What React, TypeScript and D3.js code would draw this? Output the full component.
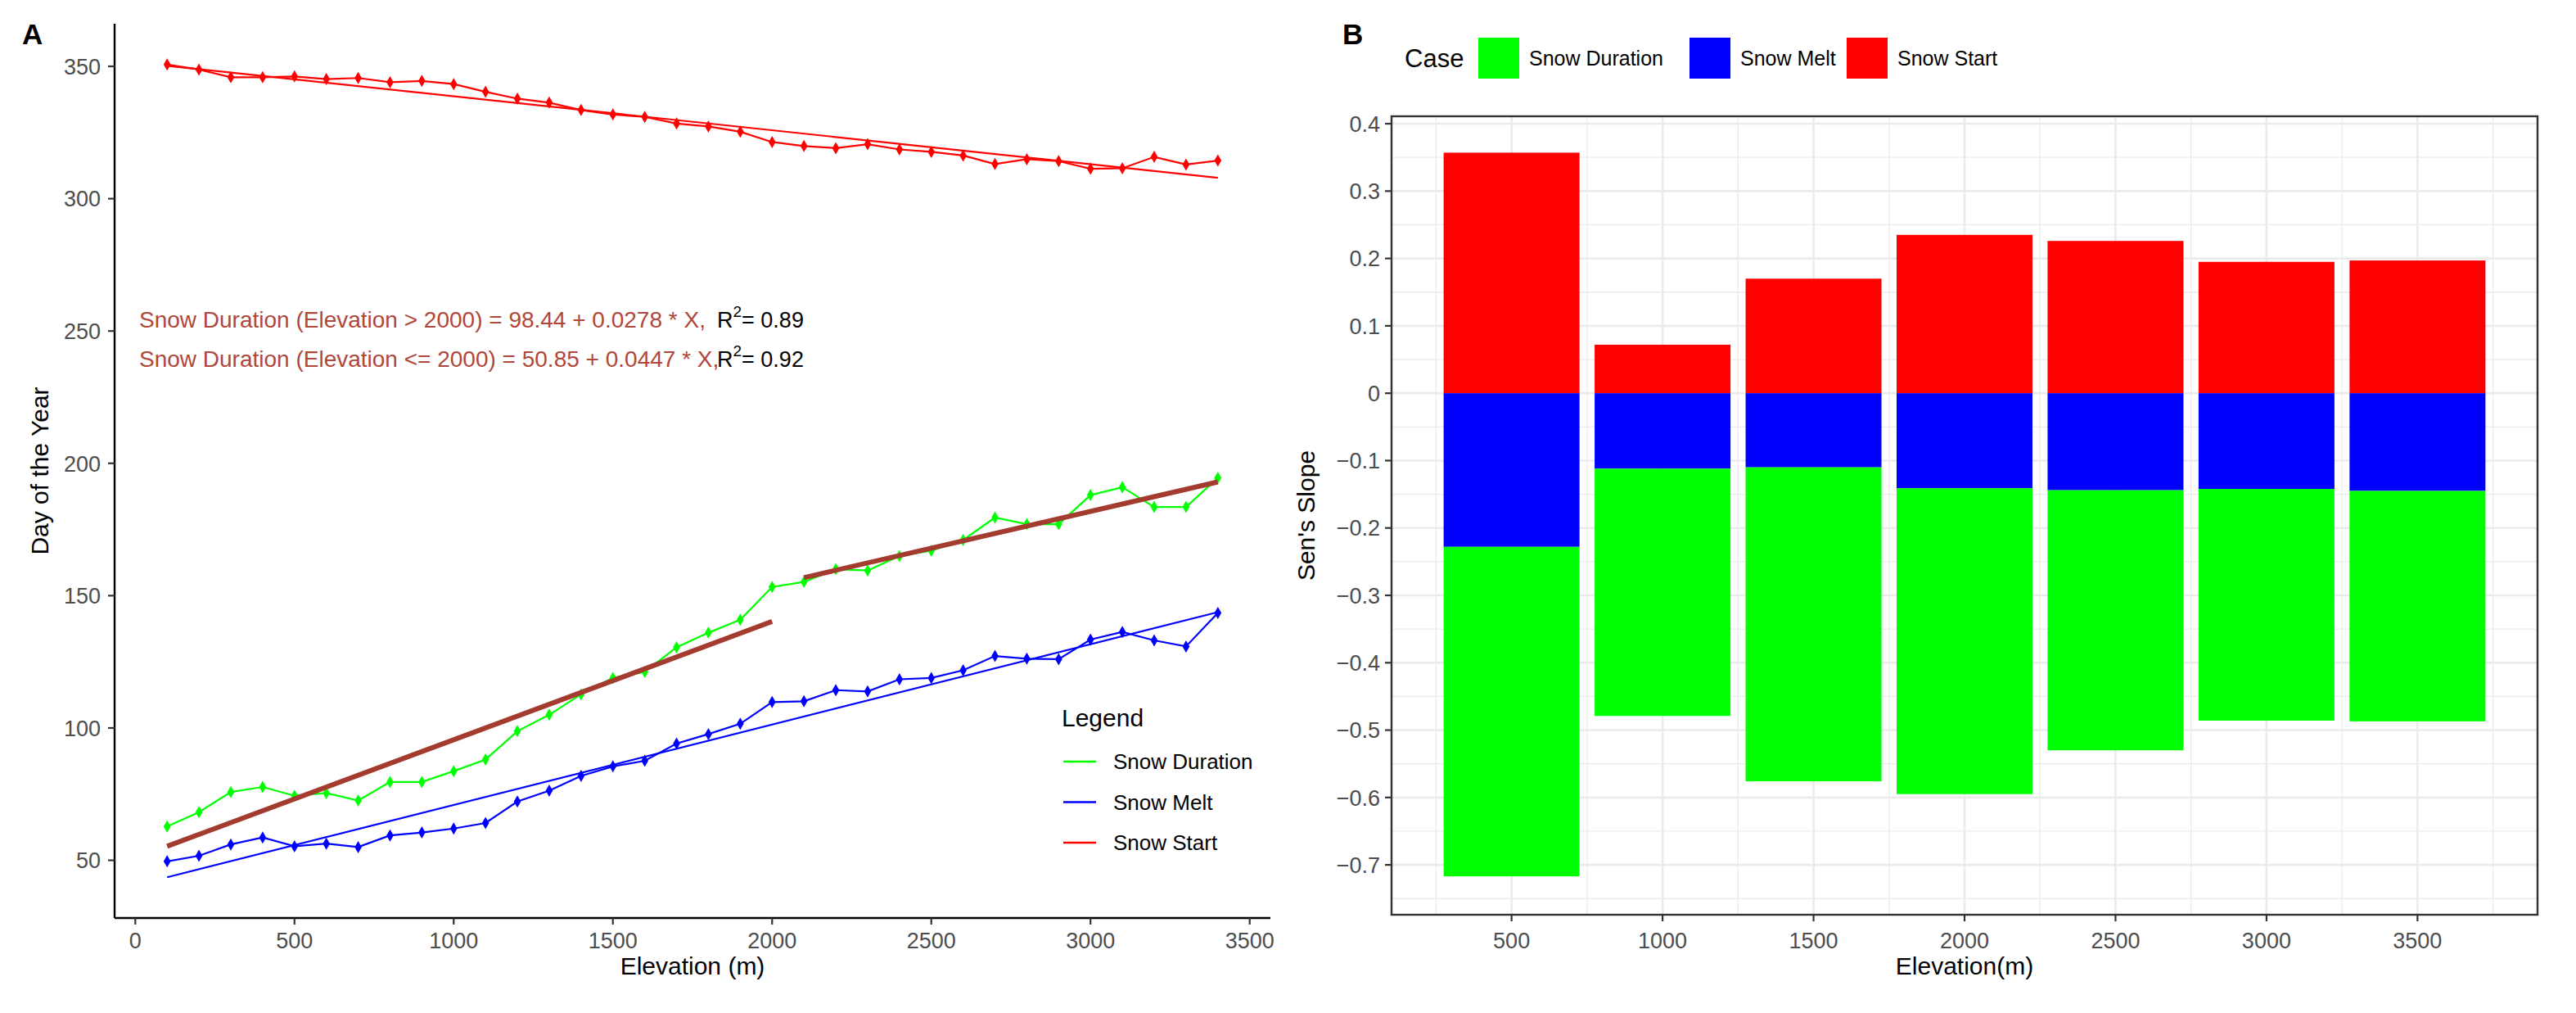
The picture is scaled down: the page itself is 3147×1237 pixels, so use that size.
import { useEffect, useRef } from "react";
import * as d3 from "d3";

// Panel A: day of year by elevation
const elevation = [
  100, 200, 300, 400, 500, 600, 700, 800, 900, 1000, 1100, 1200, 1300, 1400, 1500, 1600, 1700,
  1800, 1900, 2000, 2100, 2200, 2300, 2400, 2500, 2600, 2700, 2800, 2900, 3000, 3100, 3200, 3300, 3400,
];
const snowStart = [
  350.7, 348.8, 345.9, 345.9, 346.2, 345.2, 345.6, 344.0, 344.5, 343.3, 340.4, 337.8, 336.3, 333.5,
  331.8, 330.9, 328.4, 327.3, 325.3, 321.4, 319.9, 319.1, 320.6, 318.6, 317.7, 316.3, 313.1, 314.9,
  314.2, 311.3, 311.5, 315.8, 312.9, 314.4,
];
const snowMelt = [
  49.6, 51.7, 56.0, 58.6, 55.3, 56.3, 55.0, 59.4, 60.5, 62.0, 64.1, 72.2, 76.3, 81.9, 85.5, 87.6,
  94.1, 97.7, 101.6, 109.8, 110.1, 114.3, 113.8, 118.4, 118.9, 121.8, 127.2, 126.2, 126.0, 133.4,
  136.3, 133.1, 130.8, 143.5,
];
const snowDuration = [
  62.8, 68.2, 75.8, 77.7, 74.4, 75.4, 72.6, 79.6, 79.6, 83.7, 88.1, 98.8, 105.0, 112.7, 118.9, 121.2,
  130.5, 136.0, 140.9, 153.3, 155.2, 160.0, 159.5, 165.0, 167.0, 171.0, 179.5, 177.0, 177.0, 188.0,
  191.0, 183.5, 183.5, 194.5,
];

// fitted lines: [intercept, slope, from, to]
const startFit = [351.5, -0.01282, 100, 3400];
const meltFit = [40.56, 0.03036, 100, 3400];
const durationFitLow = [50.85, 0.0447, 100, 2000];
const durationFitHigh = [98.44, 0.0278, 2100, 3400];

const equations = [
  "Snow Duration (Elevation > 2000) = 98.44 + 0.0278 * X,",
  "Snow Duration (Elevation <= 2000) = 50.85 + 0.0447 * X,",
];
const rSquared = ["0.89", "0.92"];
const seriesNames = ["Snow Duration", "Snow Melt", "Snow Start"];
const xTicksA = [0, 500, 1000, 1500, 2000, 2500, 3000, 3500];
const yTicksA = [50, 100, 150, 200, 250, 300, 350];

// Panel B: Sen's slope by elevation band
const bandElevation = [500, 1000, 1500, 2000, 2500, 3000, 3500];
const slopeStart = [0.357, 0.072, 0.17, 0.235, 0.226, 0.195, 0.197];
const slopeMelt = [-0.228, -0.112, -0.11, -0.141, -0.144, -0.142, -0.145];
const slopeDuration = [-0.489, -0.367, -0.466, -0.454, -0.386, -0.344, -0.342];
const yTicksB = [-0.7, -0.6, -0.5, -0.4, -0.3, -0.2, -0.1, 0, 0.1, 0.2, 0.3, 0.4];

const colors: Record<string, string> = {
  "Snow Duration": "#00FF00",
  "Snow Melt": "#0000FF",
  "Snow Start": "#FF0000",
};

const FONT = "'Liberation Sans', Arial, sans-serif";
const fmtB = (v: number) => (v === 0 ? "0" : d3.format(".1f")(v).replace("-", "\u2212"));

const App = () => {
  const svgRef = useRef<SVGSVGElement | null>(null);

  useEffect(() => {
    if (!svgRef.current) return;
    const svg = d3.select(svgRef.current);
    svg.selectAll("*").remove();
    svg.attr("font-family", FONT);

    // ---------- Panel A ----------
    const xA = d3.scaleLinear().domain([-65, 3565]).range([140, 1552]);
    const yA = d3.scaleLinear().domain([28.2, 366.1]).range([1121, 29]);
    const gA = svg.append("g");

    gA.append("line")
      .attr("x1", 140).attr("x2", 1552).attr("y1", 1121).attr("y2", 1121)
      .attr("stroke", "#000").attr("stroke-width", 2.4);
    gA.append("line")
      .attr("x1", 140).attr("x2", 140).attr("y1", 29).attr("y2", 1121)
      .attr("stroke", "#000").attr("stroke-width", 2.4);

    xTicksA.forEach((t) => {
      gA.append("line")
        .attr("x1", xA(t)).attr("x2", xA(t)).attr("y1", 1121).attr("y2", 1129)
        .attr("stroke", "#333").attr("stroke-width", 2.2);
      gA.append("text")
        .attr("x", xA(t)).attr("y", 1158)
        .attr("text-anchor", "middle").attr("font-size", 27).attr("fill", "#4D4D4D")
        .text(t);
    });
    yTicksA.forEach((t) => {
      gA.append("line")
        .attr("x1", 132).attr("x2", 140).attr("y1", yA(t)).attr("y2", yA(t))
        .attr("stroke", "#333").attr("stroke-width", 2.2);
      gA.append("text")
        .attr("x", 123).attr("y", yA(t)).attr("dy", "0.36em")
        .attr("text-anchor", "end").attr("font-size", 27).attr("fill", "#4D4D4D")
        .text(t);
    });

    gA.append("text")
      .attr("x", (140 + 1552) / 2).attr("y", 1190)
      .attr("text-anchor", "middle").attr("font-size", 30).attr("fill", "#000")
      .text("Elevation (m)");
    gA.append("text")
      .attr("transform", `translate(59,${(29 + 1121) / 2}) rotate(-90)`)
      .attr("text-anchor", "middle").attr("font-size", 30).attr("fill", "#000")
      .text("Day of the Year");
    gA.append("text")
      .attr("x", 27).attr("y", 54).attr("font-size", 35).attr("font-weight", "bold")
      .text("A");

    const line = d3.line<number>()
      .x((_, i) => xA(elevation[i]))
      .y((d) => yA(d));

    const fitLine = (f: number[], color: string, width: number) => {
      const xs = [f[2], f[3]];
      gA.append("path")
        .attr("d", d3.line<number>().x((d) => xA(d)).y((d) => yA(f[0] + f[1] * d))(xs))
        .attr("fill", "none").attr("stroke", color).attr("stroke-width", width);
    };

    const series: [string, number[]][] = [
      ["Snow Start", snowStart],
      ["Snow Melt", snowMelt],
      ["Snow Duration", snowDuration],
    ];
    fitLine(startFit, colors["Snow Start"], 2.2);
    fitLine(meltFit, colors["Snow Melt"], 2.2);

    series.forEach(([name, vals]) => {
      gA.append("path")
        .attr("d", line(vals))
        .attr("fill", "none").attr("stroke", colors[name]).attr("stroke-width", 2.2);
      gA.selectAll(null)
        .data(vals)
        .enter().append("path")
        .attr("transform", (d, i) => `translate(${xA(elevation[i])},${yA(d)})`)
        .attr("d", d3.symbol(d3.symbolDiamond, 65)())
        .attr("fill", colors[name]);
    });

    fitLine(durationFitLow, "#A33B2E", 6);
    fitLine(durationFitHigh, "#A33B2E", 6);

    equations.forEach((eq, i) => {
      const yy = 400 + i * 48;
      gA.append("text")
        .attr("x", 170).attr("y", yy).attr("font-size", 28).attr("fill", "#B0473A")
        .text(eq);
      const r = gA.append("text")
        .attr("x", 876).attr("y", yy).attr("font-size", 27).attr("fill", "#000");
      r.append("tspan").text("R");
      r.append("tspan").attr("font-size", 19).attr("dy", -13).text("2");
      r.append("tspan").attr("dy", 13).text(`= ${rSquared[i]}`);
    });

    // legend A
    gA.append("text")
      .attr("x", 1297).attr("y", 887).attr("font-size", 30).text("Legend");
    seriesNames.forEach((name, i) => {
      const yy = 930 + i * 49.5;
      gA.append("line")
        .attr("x1", 1299).attr("x2", 1339).attr("y1", yy).attr("y2", yy)
        .attr("stroke", colors[name]).attr("stroke-width", 2.4);
      gA.append("text")
        .attr("x", 1360).attr("y", yy).attr("dy", "0.36em").attr("font-size", 26)
        .text(name);
    });

    // ---------- Panel B ----------
    const left = 1700, right = 3100, top = 142, bottom = 1117;
    const xB = d3.scaleLinear().domain([102.5, 3897.5]).range([left, right]);
    const yB = d3.scaleLinear().domain([-0.774, 0.411]).range([bottom, top]);
    const gB = svg.append("g");

    const minorX = [250, 750, 1250, 1750, 2250, 2750, 3250, 3750];
    const minorY = [-0.75, -0.65, -0.55, -0.45, -0.35, -0.25, -0.15, -0.05, 0.05, 0.15, 0.25, 0.35];
    minorX.forEach((t) =>
      gB.append("line").attr("x1", xB(t)).attr("x2", xB(t)).attr("y1", top).attr("y2", bottom)
        .attr("stroke", "#EBEBEB").attr("stroke-width", 1.3));
    minorY.forEach((t) =>
      gB.append("line").attr("x1", left).attr("x2", right).attr("y1", yB(t)).attr("y2", yB(t))
        .attr("stroke", "#EBEBEB").attr("stroke-width", 1.3));
    bandElevation.forEach((t) =>
      gB.append("line").attr("x1", xB(t)).attr("x2", xB(t)).attr("y1", top).attr("y2", bottom)
        .attr("stroke", "#EBEBEB").attr("stroke-width", 2.6));
    yTicksB.forEach((t) =>
      gB.append("line").attr("x1", left).attr("x2", right).attr("y1", yB(t)).attr("y2", yB(t))
        .attr("stroke", "#EBEBEB").attr("stroke-width", 2.6));

    const rows = bandElevation.map((e, i) => ({
      elev: e,
      "Snow Start": slopeStart[i],
      "Snow Melt": slopeMelt[i],
      "Snow Duration": slopeDuration[i],
    }));
    const stacked = d3.stack<any>()
      .keys(["Snow Start", "Snow Melt", "Snow Duration"])
      .offset(d3.stackOffsetDiverging)(rows);
    const barW = xB(450) - xB(0);
    stacked.forEach((layer) => {
      gB.selectAll(null)
        .data(layer)
        .enter().append("rect")
        .attr("x", (d) => xB(d.data.elev) - barW / 2)
        .attr("width", barW)
        .attr("y", (d) => yB(Math.max(d[0], d[1])))
        .attr("height", (d) => Math.abs(yB(d[0]) - yB(d[1])))
        .attr("fill", colors[layer.key]);
    });

    gB.append("rect")
      .attr("x", left).attr("y", top).attr("width", right - left).attr("height", bottom - top)
      .attr("fill", "none").attr("stroke", "#333").attr("stroke-width", 2.4);

    bandElevation.forEach((t) => {
      gB.append("line")
        .attr("x1", xB(t)).attr("x2", xB(t)).attr("y1", bottom).attr("y2", bottom + 8)
        .attr("stroke", "#333").attr("stroke-width", 2.2);
      gB.append("text")
        .attr("x", xB(t)).attr("y", 1158)
        .attr("text-anchor", "middle").attr("font-size", 27).attr("fill", "#4D4D4D")
        .text(t);
    });
    yTicksB.forEach((t) => {
      gB.append("line")
        .attr("x1", left - 8).attr("x2", left).attr("y1", yB(t)).attr("y2", yB(t))
        .attr("stroke", "#333").attr("stroke-width", 2.2);
      gB.append("text")
        .attr("x", left - 14).attr("y", yB(t)).attr("dy", "0.36em")
        .attr("text-anchor", "end").attr("font-size", 27).attr("fill", "#4D4D4D")
        .text(fmtB(t));
    });

    gB.append("text")
      .attr("x", (left + right) / 2).attr("y", 1190)
      .attr("text-anchor", "middle").attr("font-size", 30)
      .text("Elevation(m)");
    gB.append("text")
      .attr("transform", `translate(1606,${(top + bottom) / 2}) rotate(-90)`)
      .attr("text-anchor", "middle").attr("font-size", 30)
      .text("Sen's Slope");
    gB.append("text")
      .attr("x", 1640).attr("y", 54).attr("font-size", 35).attr("font-weight", "bold")
      .text("B");

    // legend B
    gB.append("text")
      .attr("x", 1716).attr("y", 71).attr("dy", "0.36em").attr("font-size", 31).text("Case");
    const keyX = [1806, 2064, 2256];
    seriesNames.forEach((name, i) => {
      gB.append("rect")
        .attr("x", keyX[i]).attr("y", 46).attr("width", 50).attr("height", 50)
        .attr("fill", colors[name]);
      gB.append("text")
        .attr("x", keyX[i] + 62).attr("y", 71).attr("dy", "0.36em").attr("font-size", 25)
        .text(name);
    });
  }, []);

  return (
    <svg
      ref={svgRef}
      width={3147}
      height={1237}
      style={{ position: "absolute", left: 0, top: 0, background: "#fff" }}
    />
  );
};

export default App;
